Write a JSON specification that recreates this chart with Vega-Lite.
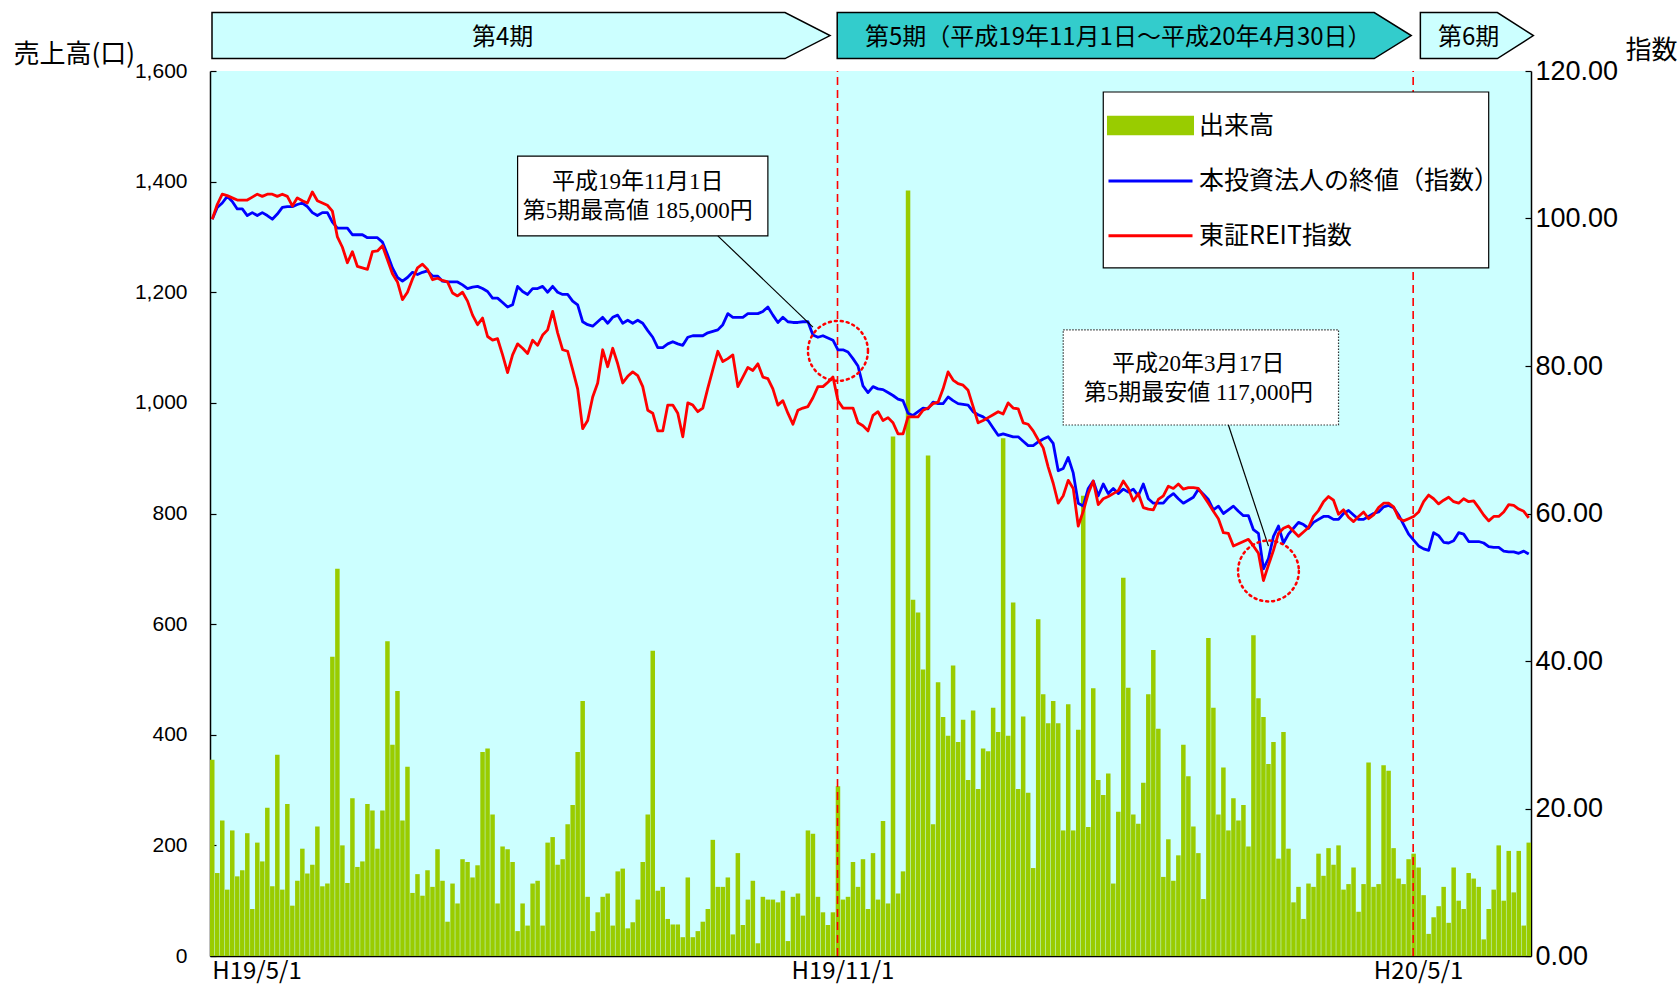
{
"$schema": "https://vega.github.io/schema/vega-lite/v6.json",
"width": 1321, "height": 885,
"autosize": {"type": "none"},
"padding": {"left": 210, "top": 71, "right": 148, "bottom": 29},
"background": "#ffffff",
"config": {"view": {"fill": "#CCFFFF", "stroke": null}, "font": "Noto Sans CJK JP"},
"data": {"values": [
{"n":0,"volume":355,"fund":99.9,"reit":99.9},{"n":1,"volume":150,"fund":101.5,"reit":101.9},{"n":2,"volume":245,"fund":102.1,"reit":103.3},{"n":3,"volume":120,"fund":103.0,"reit":103.1},{"n":4,"volume":227,"fund":102.3,"reit":102.8},{"n":5,"volume":144,"fund":101.3,"reit":102.5},{"n":6,"volume":155,"fund":101.3,"reit":102.5},{"n":7,"volume":222,"fund":100.4,"reit":102.5},{"n":8,"volume":85,"fund":100.8,"reit":102.9},{"n":9,"volume":205,"fund":100.4,"reit":103.3},
{"n":10,"volume":171,"fund":100.8,"reit":103.0},{"n":11,"volume":268,"fund":100.4,"reit":103.3},{"n":12,"volume":126,"fund":99.9,"reit":103.3},{"n":13,"volume":364,"fund":100.6,"reit":103.0},{"n":14,"volume":120,"fund":101.5,"reit":103.3},{"n":15,"volume":275,"fund":101.6,"reit":103.0},{"n":16,"volume":91,"fund":101.6,"reit":101.7},{"n":17,"volume":136,"fund":101.9,"reit":102.8},{"n":18,"volume":194,"fund":102.1,"reit":102.4},{"n":19,"volume":149,"fund":101.6,"reit":102.1},
{"n":20,"volume":165,"fund":100.8,"reit":103.6},{"n":21,"volume":234,"fund":100.4,"reit":102.4},{"n":22,"volume":126,"fund":100.8,"reit":102.1},{"n":23,"volume":131,"fund":100.8,"reit":101.8},{"n":24,"volume":541,"fund":99.5,"reit":101.0},{"n":25,"volume":700,"fund":98.7,"reit":97.5},{"n":26,"volume":200,"fund":98.7,"reit":96.1},{"n":27,"volume":132,"fund":98.7,"reit":94.0},{"n":28,"volume":285,"fund":97.8,"reit":95.5},{"n":29,"volume":161,"fund":97.8,"reit":93.5},
{"n":30,"volume":171,"fund":97.8,"reit":93.3},{"n":31,"volume":275,"fund":97.4,"reit":93.1},{"n":32,"volume":263,"fund":97.4,"reit":95.5},{"n":33,"volume":194,"fund":97.4,"reit":95.6},{"n":34,"volume":263,"fund":96.8,"reit":96.3},{"n":35,"volume":569,"fund":95.1,"reit":94.4},{"n":36,"volume":382,"fund":93.3,"reit":92.5},{"n":37,"volume":479,"fund":92.0,"reit":91.4},{"n":38,"volume":245,"fund":91.5,"reit":89.0},{"n":39,"volume":342,"fund":92.0,"reit":90.0},
{"n":40,"volume":114,"fund":92.7,"reit":91.8},{"n":41,"volume":148,"fund":92.4,"reit":93.3},{"n":42,"volume":109,"fund":92.7,"reit":93.8},{"n":43,"volume":155,"fund":92.9,"reit":93.1},{"n":44,"volume":125,"fund":92.2,"reit":91.7},{"n":45,"volume":193,"fund":92.2,"reit":91.9},{"n":46,"volume":136,"fund":91.5,"reit":91.6},{"n":47,"volume":62,"fund":91.4,"reit":91.4},{"n":48,"volume":131,"fund":91.4,"reit":89.9},{"n":49,"volume":95,"fund":91.4,"reit":89.5},
{"n":50,"volume":175,"fund":91.0,"reit":90.0},{"n":51,"volume":170,"fund":90.5,"reit":88.8},{"n":52,"volume":142,"fund":90.7,"reit":86.9},{"n":53,"volume":164,"fund":90.8,"reit":85.6},{"n":54,"volume":369,"fund":90.5,"reit":86.5},{"n":55,"volume":375,"fund":90.1,"reit":84.0},{"n":56,"volume":256,"fund":89.2,"reit":83.5},{"n":57,"volume":95,"fund":89.2,"reit":83.7},{"n":58,"volume":198,"fund":88.6,"reit":81.5},{"n":59,"volume":193,"fund":88.0,"reit":79.1},
{"n":60,"volume":170,"fund":88.3,"reit":81.5},{"n":61,"volume":45,"fund":90.8,"reit":83.0},{"n":62,"volume":95,"fund":90.1,"reit":82.4},{"n":63,"volume":55,"fund":89.7,"reit":81.7},{"n":64,"volume":131,"fund":90.5,"reit":83.5},{"n":65,"volume":136,"fund":90.5,"reit":82.8},{"n":66,"volume":55,"fund":90.8,"reit":84.2},{"n":67,"volume":205,"fund":90.0,"reit":84.9},{"n":68,"volume":215,"fund":90.8,"reit":87.4},{"n":69,"volume":165,"fund":90.0,"reit":84.5},
{"n":70,"volume":175,"fund":89.7,"reit":82.2},{"n":71,"volume":238,"fund":89.7,"reit":82.0},{"n":72,"volume":273,"fund":88.8,"reit":79.5},{"n":73,"volume":369,"fund":88.3,"reit":76.9},{"n":74,"volume":461,"fund":86.0,"reit":71.5},{"n":75,"volume":107,"fund":85.6,"reit":72.6},{"n":76,"volume":45,"fund":85.4,"reit":75.8},{"n":77,"volume":79,"fund":86.0,"reit":77.7},{"n":78,"volume":107,"fund":86.6,"reit":82.2},{"n":79,"volume":113,"fund":85.8,"reit":79.9},
{"n":80,"volume":55,"fund":86.6,"reit":82.4},{"n":81,"volume":153,"fund":86.9,"reit":80.3},{"n":82,"volume":158,"fund":85.8,"reit":77.7},{"n":83,"volume":50,"fund":86.2,"reit":78.6},{"n":84,"volume":61,"fund":85.8,"reit":79.2},{"n":85,"volume":102,"fund":86.2,"reit":78.7},{"n":86,"volume":170,"fund":85.8,"reit":77.2},{"n":87,"volume":256,"fund":84.8,"reit":74.0},{"n":88,"volume":552,"fund":83.9,"reit":73.6},{"n":89,"volume":118,"fund":82.5,"reit":71.2},
{"n":90,"volume":125,"fund":82.5,"reit":71.2},{"n":91,"volume":67,"fund":83.0,"reit":74.7},{"n":92,"volume":57,"fund":83.3,"reit":74.7},{"n":93,"volume":57,"fund":83.0,"reit":73.6},{"n":94,"volume":34,"fund":82.8,"reit":70.4},{"n":95,"volume":142,"fund":83.9,"reit":75.0},{"n":96,"volume":34,"fund":84.1,"reit":74.7},{"n":97,"volume":45,"fund":84.1,"reit":73.8},{"n":98,"volume":62,"fund":84.1,"reit":74.3},{"n":99,"volume":85,"fund":84.5,"reit":77.0},
{"n":100,"volume":210,"fund":84.7,"reit":79.5},{"n":101,"volume":125,"fund":84.9,"reit":82.0},{"n":102,"volume":125,"fund":85.6,"reit":80.6},{"n":103,"volume":142,"fund":87.1,"reit":81.0},{"n":104,"volume":39,"fund":86.6,"reit":81.5},{"n":105,"volume":186,"fund":86.6,"reit":77.2},{"n":106,"volume":56,"fund":86.6,"reit":78.5},{"n":107,"volume":102,"fund":87.1,"reit":79.8},{"n":108,"volume":136,"fund":87.1,"reit":79.4},{"n":109,"volume":23,"fund":87.1,"reit":80.3},
{"n":110,"volume":107,"fund":87.4,"reit":78.5},{"n":111,"volume":102,"fund":88.0,"reit":78.3},{"n":112,"volume":102,"fund":86.9,"reit":76.9},{"n":113,"volume":97,"fund":85.9,"reit":74.7},{"n":114,"volume":118,"fund":86.6,"reit":75.3},{"n":115,"volume":27,"fund":86.0,"reit":73.6},{"n":116,"volume":107,"fund":85.9,"reit":72.1},{"n":117,"volume":113,"fund":85.9,"reit":74.0},{"n":118,"volume":73,"fund":86.0,"reit":74.3},{"n":119,"volume":227,"fund":86.0,"reit":74.5},
{"n":120,"volume":221,"fund":84.2,"reit":75.7},{"n":121,"volume":107,"fund":83.9,"reit":77.2},{"n":122,"volume":79,"fund":84.1,"reit":77.2},{"n":123,"volume":56,"fund":83.8,"reit":77.8},{"n":124,"volume":79,"fund":83.5,"reit":78.5},{"n":125,"volume":307,"fund":82.2,"reit":75.3},{"n":126,"volume":102,"fund":82.2,"reit":74.3},{"n":127,"volume":107,"fund":81.9,"reit":74.3},{"n":128,"volume":170,"fund":81.0,"reit":74.3},{"n":129,"volume":125,"fund":80.0,"reit":72.3},
{"n":130,"volume":175,"fund":77.3,"reit":71.9},{"n":131,"volume":85,"fund":76.4,"reit":71.2},{"n":132,"volume":186,"fund":77.2,"reit":73.3},{"n":133,"volume":102,"fund":76.9,"reit":73.8},{"n":134,"volume":244,"fund":76.8,"reit":72.6},{"n":135,"volume":95,"fund":76.4,"reit":73.0},{"n":136,"volume":939,"fund":76.0,"reit":72.3},{"n":137,"volume":113,"fund":75.5,"reit":70.8},{"n":138,"volume":153,"fund":75.3,"reit":70.8},{"n":139,"volume":1384,"fund":73.6,"reit":73.1},
{"n":140,"volume":644,"fund":73.3,"reit":73.1},{"n":141,"volume":621,"fund":73.8,"reit":73.1},{"n":142,"volume":518,"fund":74.3,"reit":74.0},{"n":143,"volume":905,"fund":74.2,"reit":74.3},{"n":144,"volume":238,"fund":75.1,"reit":74.9},{"n":145,"volume":495,"fund":74.9,"reit":75.1},{"n":146,"volume":432,"fund":74.9,"reit":76.9},{"n":147,"volume":398,"fund":75.8,"reit":79.2},{"n":148,"volume":525,"fund":75.3,"reit":78.1},{"n":149,"volume":387,"fund":74.9,"reit":77.6},
{"n":150,"volume":427,"fund":74.8,"reit":77.4},{"n":151,"volume":318,"fund":74.7,"reit":76.7},{"n":152,"volume":444,"fund":73.8,"reit":74.5},{"n":153,"volume":302,"fund":73.4,"reit":72.3},{"n":154,"volume":375,"fund":73.1,"reit":72.6},{"n":155,"volume":370,"fund":72.6,"reit":73.0},{"n":156,"volume":449,"fund":71.6,"reit":73.4},{"n":157,"volume":405,"fund":70.6,"reit":73.8},{"n":158,"volume":936,"fund":70.8,"reit":73.5},{"n":159,"volume":398,"fund":70.6,"reit":75.0},
{"n":160,"volume":639,"fund":70.4,"reit":74.3},{"n":161,"volume":302,"fund":70.4,"reit":74.2},{"n":162,"volume":433,"fund":69.8,"reit":72.3},{"n":163,"volume":295,"fund":69.2,"reit":72.1},{"n":164,"volume":159,"fund":69.2,"reit":71.2},{"n":165,"volume":609,"fund":69.7,"reit":70.0},{"n":166,"volume":473,"fund":70.1,"reit":68.9},{"n":167,"volume":421,"fund":70.4,"reit":66.3},{"n":168,"volume":461,"fund":69.5,"reit":64.1},{"n":169,"volume":421,"fund":65.8,"reit":61.4},
{"n":170,"volume":227,"fund":66.1,"reit":62.4},{"n":171,"volume":455,"fund":67.6,"reit":64.5},{"n":172,"volume":227,"fund":65.5,"reit":63.4},{"n":173,"volume":409,"fund":61.4,"reit":58.3},{"n":174,"volume":832,"fund":61.0,"reit":60.3},{"n":175,"volume":233,"fund":63.4,"reit":62.7},{"n":176,"volume":484,"fund":64.4,"reit":64.4},{"n":177,"volume":318,"fund":62.4,"reit":61.2},{"n":178,"volume":291,"fund":64.0,"reit":62.0},{"n":179,"volume":330,"fund":62.7,"reit":62.3},
{"n":180,"volume":131,"fund":63.4,"reit":62.7},{"n":181,"volume":261,"fund":62.7,"reit":63.1},{"n":182,"volume":684,"fund":63.3,"reit":64.4},{"n":183,"volume":485,"fund":62.9,"reit":63.4},{"n":184,"volume":256,"fund":63.3,"reit":61.7},{"n":185,"volume":239,"fund":62.4,"reit":62.7},{"n":186,"volume":313,"fund":64.0,"reit":60.8},{"n":187,"volume":473,"fund":62.0,"reit":60.6},{"n":188,"volume":553,"fund":61.4,"reit":60.5},{"n":189,"volume":411,"fund":61.4,"reit":61.9},
{"n":190,"volume":143,"fund":61.4,"reit":62.4},{"n":191,"volume":211,"fund":62.2,"reit":63.7},{"n":192,"volume":136,"fund":62.7,"reit":63.4},{"n":193,"volume":182,"fund":62.0,"reit":64.0},{"n":194,"volume":382,"fund":61.4,"reit":63.3},{"n":195,"volume":325,"fund":61.8,"reit":63.5},{"n":196,"volume":234,"fund":62.2,"reit":63.5},{"n":197,"volume":186,"fund":63.3,"reit":63.4},{"n":198,"volume":103,"fund":62.6,"reit":62.4},{"n":199,"volume":575,"fund":61.9,"reit":61.4},
{"n":200,"volume":449,"fund":60.5,"reit":60.3},{"n":201,"volume":256,"fund":61.0,"reit":59.3},{"n":202,"volume":341,"fund":60.0,"reit":57.4},{"n":203,"volume":227,"fund":60.5,"reit":57.3},{"n":204,"volume":285,"fund":61.0,"reit":55.6},{"n":205,"volume":245,"fund":60.3,"reit":55.9},{"n":206,"volume":273,"fund":59.7,"reit":56.2},{"n":207,"volume":198,"fund":59.7,"reit":56.5},{"n":208,"volume":580,"fund":57.8,"reit":55.6},{"n":209,"volume":466,"fund":57.3,"reit":54.6},
{"n":210,"volume":432,"fund":52.5,"reit":50.9},{"n":211,"volume":347,"fund":53.9,"reit":53.0},{"n":212,"volume":387,"fund":56.9,"reit":55.0},{"n":213,"volume":176,"fund":58.3,"reit":57.3},{"n":214,"volume":405,"fund":56.0,"reit":58.0},{"n":215,"volume":194,"fund":57.2,"reit":58.3},{"n":216,"volume":97,"fund":58.0,"reit":57.6},{"n":217,"volume":125,"fund":58.8,"reit":56.9},{"n":218,"volume":67,"fund":58.5,"reit":57.5},{"n":219,"volume":131,"fund":58.0,"reit":58.1},
{"n":220,"volume":125,"fund":58.8,"reit":59.6},{"n":221,"volume":185,"fund":59.2,"reit":60.4},{"n":222,"volume":145,"fund":59.6,"reit":61.6},{"n":223,"volume":195,"fund":59.6,"reit":62.3},{"n":224,"volume":165,"fund":59.2,"reit":61.8},{"n":225,"volume":200,"fund":59.2,"reit":59.9},{"n":226,"volume":120,"fund":60.0,"reit":60.5},{"n":227,"volume":130,"fund":60.4,"reit":59.5},{"n":228,"volume":160,"fund":59.8,"reit":58.9},{"n":229,"volume":80,"fund":59.2,"reit":59.6},
{"n":230,"volume":130,"fund":59.2,"reit":60.2},{"n":231,"volume":350,"fund":59.6,"reit":59.3},{"n":232,"volume":125,"fund":60.0,"reit":59.8},{"n":233,"volume":130,"fund":60.2,"reit":60.8},{"n":234,"volume":345,"fund":60.9,"reit":61.4},{"n":235,"volume":335,"fund":61.1,"reit":61.4},{"n":236,"volume":195,"fund":60.8,"reit":60.9},{"n":237,"volume":140,"fund":59.8,"reit":59.4},{"n":238,"volume":130,"fund":58.5,"reit":59.0},{"n":239,"volume":175,"fund":57.2,"reit":59.3},
{"n":240,"volume":185,"fund":56.4,"reit":59.6},{"n":241,"volume":160,"fund":55.6,"reit":60.2},{"n":242,"volume":110,"fund":55.2,"reit":61.6},{"n":243,"volume":40,"fund":55.0,"reit":62.5},{"n":244,"volume":70,"fund":57.4,"reit":62.0},{"n":245,"volume":90,"fund":57.0,"reit":61.3},{"n":246,"volume":125,"fund":56.1,"reit":61.8},{"n":247,"volume":60,"fund":56.0,"reit":62.2},{"n":248,"volume":160,"fund":56.3,"reit":61.6},{"n":249,"volume":100,"fund":57.4,"reit":61.4},
{"n":250,"volume":85,"fund":57.2,"reit":62.0},{"n":251,"volume":150,"fund":56.2,"reit":61.6},{"n":252,"volume":140,"fund":56.2,"reit":61.7},{"n":253,"volume":125,"fund":56.2,"reit":60.8},{"n":254,"volume":30,"fund":56.0,"reit":59.8},{"n":255,"volume":85,"fund":55.5,"reit":59.0},{"n":256,"volume":120,"fund":55.4,"reit":59.6},{"n":257,"volume":200,"fund":55.4,"reit":59.6},{"n":258,"volume":100,"fund":54.9,"reit":60.2},{"n":259,"volume":190,"fund":54.8,"reit":61.2},
{"n":260,"volume":115,"fund":54.8,"reit":61.1},{"n":261,"volume":190,"fund":54.6,"reit":60.6},{"n":262,"volume":55,"fund":54.9,"reit":60.3},{"n":263,"volume":205,"fund":54.5,"reit":59.4}
]},
"resolve": {"scale": {"y": "independent"}},
"layer": [
{
 "layer": [
  {
   "mark": {"type": "bar"},
   "encoding": {
    "x": {"field": "n", "type": "ordinal", "scale": {"type": "band", "paddingInner": 0.1, "paddingOuter": 0},
     "axis": {"title": null, "labelExpr": "datum.value == 0 ? 'H19/5/1' : datum.value == 126 ? 'H19/11/1' : datum.value == 241 ? 'H20/5/1' : ''",
      "labelAngle": 0, "labelAlign": {"condition": {"test": "datum.value == 0", "value": "left"}, "value": "center"},
      "labelBaseline": "top", "labelOverlap": false, "labelFont": "Noto Sans CJK JP", "labelFontSize": 24, "labelColor": "#000000",
      "labelPadding": 10, "tickSize": -7, "tickColor": "#000000", "tickWidth": 1, "domainColor": "#000000", "domainWidth": 1.5, "grid": false}},
    "y": {"field": "volume", "type": "quantitative", "scale": {"domain": [0, 1600], "nice": false},
     "axis": {"orient": "left", "values": [0,200,400,600,800,1000,1200,1400,1600], "format": ",.0f", "labelFont": "Liberation Sans", "labelFontSize": 21, "labelColor": "#000000",
      "tickSize": -6, "tickColor": "#000000", "tickWidth": 1.2, "domainColor": "#000000", "domainWidth": 1.5, "labelPadding": 29, "grid": false,
      "title": "売上高(口)", "titleAngle": 0, "titleX": -197, "titleY": -17, "titleAlign": "left", "titleBaseline": "middle",
      "titleFont": "Noto Sans CJK JP", "titleFontSize": 26, "titleFontWeight": "normal", "titleColor": "#000000"}},
    "color": {"datum": "volume", "type": "nominal", "scale": {"domain": ["volume", "fund", "reit"], "range": ["#99CC00", "#0000FF", "#FF0000"]}}
   }
  },
  {
   "data": {"values": [{}]},
   "mark": {"type": "rule", "color": "#FF0000", "strokeWidth": 1.6, "strokeDash": [8, 5]},
   "encoding": {"x": {"datum": 125, "type": "ordinal", "bandPosition": 0.4}, "y": {"datum": 0, "type": "quantitative"}, "y2": {"datum": 1600}}
  },
  {
   "data": {"values": [{}]},
   "mark": {"type": "rule", "color": "#FF0000", "strokeWidth": 1.6, "strokeDash": [8, 5]},
   "encoding": {"x": {"datum": 240, "type": "ordinal", "bandPosition": 0.4}, "y": {"datum": 0, "type": "quantitative"}, "y2": {"datum": 1600}}
  },
  {
   "data": {"values": [{}]},
   "mark": {"type": "point", "shape": "M0.02,-0.23L5.75,-0.23L6.2,0L5.75,0.23L0.02,0.23Z", "size": 40000, "filled": true, "fill": "#CCFFFF", "stroke": "#000000", "strokeWidth": 1.5, "opacity": 1},
   "encoding": {"x": {"datum": 0, "type": "ordinal", "bandPosition": 0}, "y": {"datum": 1664, "type": "quantitative"}}
  },
  {
   "data": {"values": [{}]},
   "mark": {"type": "point", "shape": "M-0.035,-0.23L5.335,-0.23L5.705,0L5.335,0.23L-0.035,0.23Z", "size": 40000, "filled": true, "fill": "#33CCCC", "stroke": "#000000", "strokeWidth": 1.5, "opacity": 1},
   "encoding": {"x": {"datum": 126, "type": "ordinal", "bandPosition": 0}, "y": {"datum": 1664, "type": "quantitative"}}
  },
  {
   "data": {"values": [{}]},
   "mark": {"type": "point", "shape": "M0.09,-0.23L0.86,-0.23L1.22,0L0.86,0.23L0.09,0.23Z", "size": 40000, "filled": true, "fill": "#CCFFFF", "stroke": "#000000", "strokeWidth": 1.5, "opacity": 1},
   "encoding": {"x": {"datum": 240, "type": "ordinal", "bandPosition": 0}, "y": {"datum": 1664, "type": "quantitative"}}
  },
  {
   "data": {"values": [{}]},
   "mark": {"type": "text", "font": "Noto Sans CJK JP", "fontSize": 24, "align": "center", "baseline": "middle", "color": "#000000"},
   "encoding": {"x": {"datum": 58, "type": "ordinal"}, "y": {"datum": 1660, "type": "quantitative"}, "text": {"value": "第4期"}}
  },
  {
   "data": {"values": [{}]},
   "mark": {"type": "text", "font": "Noto Sans CJK JP", "fontSize": 24, "align": "center", "baseline": "middle", "color": "#000000"},
   "encoding": {"x": {"datum": 181, "type": "ordinal"}, "y": {"datum": 1660, "type": "quantitative"}, "text": {"value": "第5期（平成19年11月1日～平成20年4月30日）"}}
  },
  {
   "data": {"values": [{}]},
   "mark": {"type": "text", "font": "Noto Sans CJK JP", "fontSize": 24, "align": "center", "baseline": "middle", "color": "#000000"},
   "encoding": {"x": {"datum": 251, "type": "ordinal"}, "y": {"datum": 1660, "type": "quantitative"}, "text": {"value": "第6期"}}
  }
 ]
},
{
 "transform": [{"fold": ["fund", "reit"], "as": ["key", "val"]}],
 "mark": {"type": "line", "strokeWidth": 2.8, "strokeJoin": "round"},
 "encoding": {
  "x": {"field": "n", "type": "ordinal"},
  "y": {"field": "val", "type": "quantitative", "scale": {"domain": [0, 120], "nice": false},
   "axis": {"orient": "right", "values": [0,20,40,60,80,100,120], "format": ".2f", "labelFont": "Liberation Sans", "labelFontSize": 27, "labelColor": "#000000",
    "tickSize": -6, "tickColor": "#000000", "tickWidth": 1.2, "domainColor": "#000000", "domainWidth": 1.5, "labelPadding": 10, "grid": false,
    "title": "指数", "titleAngle": 0, "titleX": 94, "titleY": -21, "titleAlign": "left", "titleBaseline": "middle",
    "titleFont": "Noto Sans CJK JP", "titleFontSize": 26, "titleFontWeight": "normal", "titleColor": "#000000"}},
  "color": {"field": "key", "type": "nominal", "scale": {"domain": ["volume", "fund", "reit"], "range": ["#99CC00", "#0000FF", "#FF0000"]},
   "legend": {"orient": "none", "legendX": 922, "legendY": 36, "direction": "vertical", "title": null,
    "padding": 6,
    "labelFont": "Noto Sans CJK JP", "labelFontSize": 25, "labelColor": "#000000", "labelLimit": 0,
    "labelExpr": "datum.value == 'volume' ? '出来高' : datum.value == 'fund' ? '本投資法人の終値（指数）' : '東証REIT指数'",
    "symbolSize": 420, "symbolStrokeWidth": 3, "symbolOpacity": 1, "labelOffset": 36, "rowPadding": 28.6,
    "encode": {"symbols": {"update": {
      "shape": {"signal": "datum.value === 'volume' ? 'M-4.1,-0.8H4.1V0.8H-4.1Z' : 'M-4.1,0H4.1'"},
      "fill": {"signal": "datum.value === 'volume' ? '#99CC00' : 'transparent'"},
      "stroke": {"signal": "datum.value === 'volume' ? 'transparent' : datum.value === 'fund' ? '#0000FF' : '#FF0000'"},
      "strokeWidth": {"value": 3}
    }}}
   }}
 }
},
{
 "layer": [
  {
   "data": {"values": [{}]},
   "mark": {"type": "rect", "fill": "#ffffff", "stroke": "#000000", "strokeWidth": 1.2},
   "encoding": {"x": {"datum": 178, "type": "ordinal"}, "x2": {"datum": 255},
    "y": {"datum": 1562, "type": "quantitative", "scale": {"domain": [0, 1600], "nice": false}, "axis": null}, "y2": {"datum": 1244}}
  },
  {
   "data": {"values": [{}]},
   "mark": {"type": "rect", "fill": "#ffffff", "stroke": "#000000", "strokeWidth": 1.2},
   "encoding": {"x": {"datum": 61, "type": "ordinal"}, "x2": {"datum": 111}, "y": {"datum": 1446, "type": "quantitative"}, "y2": {"datum": 1302}}
  },
  {
   "data": {"values": [{}]},
   "mark": {"type": "text", "font": "Liberation Serif, Noto Sans CJK JP", "fontSize": 23, "lineHeight": 29, "align": "center", "baseline": "middle", "color": "#000000"},
   "encoding": {"x": {"datum": 85, "type": "ordinal"}, "y": {"datum": 1399, "type": "quantitative"}, "text": {"value": ["平成19年11月1日", "第5期最高値 185,000円"]}}
  },
  {
   "data": {"values": [{}]},
   "mark": {"type": "rule", "color": "#000000", "strokeWidth": 1.2},
   "encoding": {"x": {"datum": 101, "type": "ordinal"}, "x2": {"datum": 120}, "y": {"datum": 1302, "type": "quantitative"}, "y2": {"datum": 1137}}
  },
  {
   "data": {"values": [{}]},
   "mark": {"type": "point", "shape": "circle", "size": 3600, "filled": false, "stroke": "#FF0000", "strokeWidth": 2.5, "strokeDash": [2, 4], "strokeCap": "round", "opacity": 1},
   "encoding": {"x": {"datum": 125, "type": "ordinal"}, "y": {"datum": 1094, "type": "quantitative"}}
  },
  {
   "data": {"values": [{}]},
   "mark": {"type": "rect", "fill": "#ffffff", "stroke": "#333333", "strokeWidth": 1.2, "strokeDash": [1.5, 1.5]},
   "encoding": {"x": {"datum": 170, "type": "ordinal"}, "x2": {"datum": 225}, "y": {"datum": 1132, "type": "quantitative"}, "y2": {"datum": 960}}
  },
  {
   "data": {"values": [{}]},
   "mark": {"type": "text", "font": "Liberation Serif, Noto Sans CJK JP", "fontSize": 23, "lineHeight": 29, "align": "center", "baseline": "middle", "color": "#000000"},
   "encoding": {"x": {"datum": 197, "type": "ordinal"}, "y": {"datum": 1070, "type": "quantitative"}, "text": {"value": ["平成20年3月17日", "第5期最安値 117,000円"]}}
  },
  {
   "data": {"values": [{}]},
   "mark": {"type": "rule", "color": "#000000", "strokeWidth": 1.2},
   "encoding": {"x": {"datum": 203, "type": "ordinal"}, "x2": {"datum": 211}, "y": {"datum": 960, "type": "quantitative"}, "y2": {"datum": 741}}
  },
  {
   "data": {"values": [{}]},
   "mark": {"type": "point", "shape": "circle", "size": 3700, "filled": false, "stroke": "#FF0000", "strokeWidth": 2.5, "strokeDash": [2, 4], "strokeCap": "round", "opacity": 1},
   "encoding": {"x": {"datum": 211, "type": "ordinal"}, "y": {"datum": 696, "type": "quantitative"}}
  }
 ]
}
]
}
